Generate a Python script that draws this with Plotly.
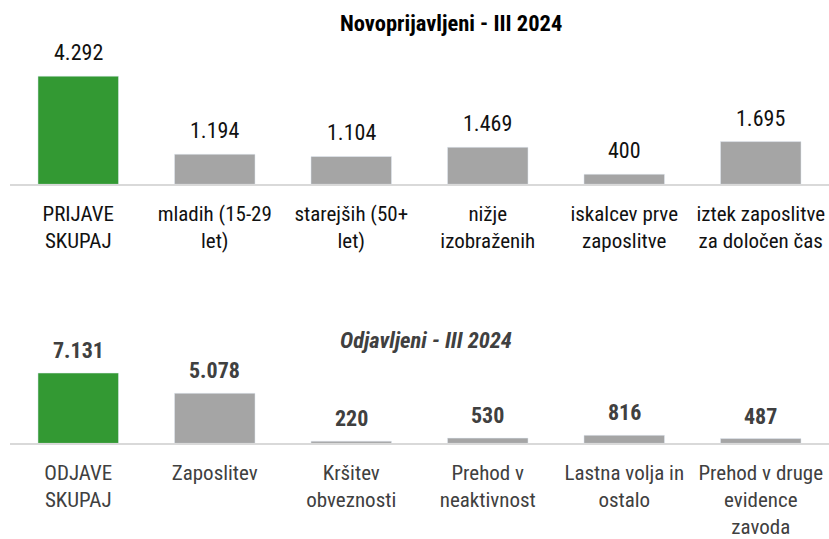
import plotly.graph_objects as go

# ---- data ----
top_title = "Novoprijavljeni - III 2024"
top_categories = ["PRIJAVE<br>SKUPAJ", "mladih (15-29<br>let)", "starejših (50+<br>let)",
                  "nižje<br>izobraženih", "iskalcev prve<br>zaposlitve", "iztek zaposlitve<br>za določen čas"]
top_values = [4292, 1194, 1104, 1469, 400, 1695]

bottom_title = "Odjavljeni - III 2024"
bottom_categories = ["ODJAVE<br>SKUPAJ", "Zaposlitev", "Kršitev<br>obveznosti",
                     "Prehod v<br>neaktivnost", "Lastna volja in<br>ostalo", "Prehod v druge<br>evidence<br>zavoda"]
bottom_values = [7131, 5078, 220, 530, 816, 487]

GREEN = "#339933"
GRAY = "#a5a5a5"
FONT = "Liberation Sans Narrow, Arial Narrow, Roboto Condensed, Liberation Sans, Arial, sans-serif"

W, H = 829, 539


def py(p):
    return 1 - p / H


def fmt(v):
    return f"{v:,}".replace(",", ".")


fig = go.Figure()

colors_top = [GREEN] + [GRAY] * (len(top_values) - 1)
colors_bot = [GREEN] + [GRAY] * (len(bottom_values) - 1)

fig.add_trace(go.Bar(x=top_categories, y=top_values, marker_color=colors_top,
                     xaxis="x", yaxis="y", showlegend=False, hoverinfo="skip"))
fig.add_trace(go.Bar(x=bottom_categories, y=bottom_values, marker_color=colors_bot,
                     xaxis="x2", yaxis="y2", showlegend=False, hoverinfo="skip"))

annotations = []
for c, v in zip(top_categories, top_values):
    annotations.append(dict(x=c, y=v, xref="x", yref="y", text=fmt(v), showarrow=False,
                            yanchor="bottom", yshift=9,
                            font=dict(family=FONT, size=22, color="#111111")))
for c, v in zip(bottom_categories, bottom_values):
    annotations.append(dict(x=c, y=v, xref="x2", yref="y2", text="<b>" + fmt(v) + "</b>",
                            showarrow=False, yanchor="bottom", yshift=8,
                            font=dict(family=FONT, size=22, color="#404040")))

annotations.append(dict(x=338 / W, y=py(23), xref="paper", yref="paper",
                        text="<b>" + top_title + "</b>", showarrow=False,
                        xanchor="left", yanchor="middle",
                        font=dict(family=FONT, size=22.5, color="#000000")))
annotations.append(dict(x=338 / W, y=py(341), xref="paper", yref="paper",
                        text="<b><i>" + bottom_title + "</i></b>", showarrow=False,
                        xanchor="left", yanchor="middle",
                        font=dict(family=FONT, size=22.5, color="#404040")))

xcommon = dict(domain=[10 / W, 1], showline=True, linecolor="#d9d9d9", linewidth=2,
               ticks="outside", ticklen=9, tickcolor="rgba(0,0,0,0)",
               showgrid=False, zeroline=False, fixedrange=True)

fig.update_layout(
    width=W, height=H,
    margin=dict(l=0, r=0, t=0, b=0),
    paper_bgcolor="white", plot_bgcolor="white",
    bargap=0.41,
    showlegend=False,
    xaxis=dict(**xcommon, anchor="y",
               tickfont=dict(family=FONT, size=21, color="#111111")),
    yaxis=dict(domain=[py(185), py(45)], range=[0, 5534], visible=False, fixedrange=True),
    xaxis2=dict(**xcommon, anchor="y2",
                tickfont=dict(family=FONT, size=21, color="#404040")),
    yaxis2=dict(domain=[py(445), py(335)], range=[0, 11111], visible=False, fixedrange=True),
    annotations=annotations,
)

fig.write_html("out.html", config={"displayModeBar": False},
               post_script="document.body.style.margin='0px';document.body.style.overflow='hidden';")
